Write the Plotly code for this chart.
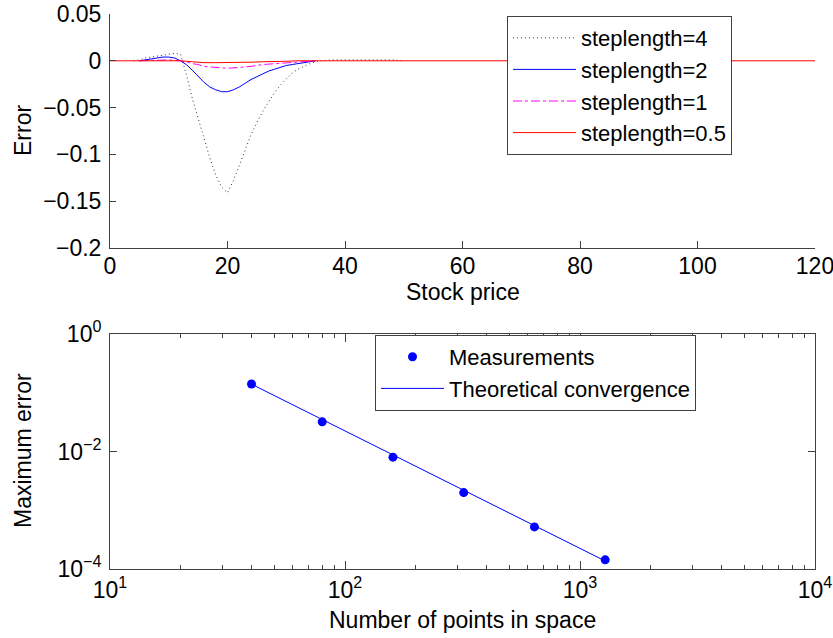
import plotly.graph_objects as go

# ---- top panel data: error vs stock price ----
price_s4 = [4, 5, 6, 7, 8, 9, 10, 11, 12, 13, 14, 15, 16, 17, 18, 19, 20, 21, 22, 23, 24,
            25, 26, 27, 28, 29, 30, 31, 32, 33, 34, 35, 36, 38, 40, 44, 48, 50]
err_s4 = [0.0, 0.001, 0.003, 0.004, 0.005, 0.006, 0.007, 0.008, 0.007, -0.015, -0.040,
          -0.062, -0.083, -0.104, -0.122, -0.135, -0.141, -0.128, -0.112, -0.095, -0.079,
          -0.066, -0.054, -0.044, -0.034, -0.026, -0.019, -0.013, -0.009, -0.006, -0.003,
          -0.001, 0.0, 0.001, 0.001, 0.001, 0.001, 0.0]

price_s2 = [5, 6, 7, 8, 9, 10, 11, 12, 13, 14, 15, 16, 17, 18, 19, 20, 21, 22, 23, 24,
            25, 26, 27, 28, 29, 30, 31, 32, 33, 34, 35]
err_s2 = [0.0, 0.001, 0.002, 0.003, 0.004, 0.004, 0.003, 0.0, -0.004, -0.010, -0.017,
          -0.023, -0.028, -0.031, -0.033, -0.033, -0.031, -0.028, -0.024, -0.020, -0.017,
          -0.014, -0.011, -0.009, -0.007, -0.005, -0.004, -0.003, -0.002, -0.001, 0.0]

price_s1 = [5, 8, 10, 12, 13, 14, 15, 16, 18, 20, 22, 24, 26, 28, 30, 32, 34, 35]
err_s1 = [0.0, 0.001, 0.001, 0.0, -0.001, -0.003, -0.004, -0.006, -0.007, -0.008, -0.007,
          -0.006, -0.004, -0.003, -0.002, -0.001, 0.0, 0.0]

price_s05 = [0, 10, 12, 14, 16, 18, 20, 22, 24, 26, 28, 30, 32, 35, 120]
err_s05 = [0.0, 0.0005, 0.0, -0.001, -0.002, -0.002, -0.002, -0.002, -0.0015, -0.001,
           -0.001, -0.0005, 0.0, 0.0, 0.0]

top_xticks = [0, 20, 40, 60, 80, 100, 120]
top_yticks = [0.05, 0, -0.05, -0.1, -0.15, -0.2]
top_yticktext = ["0.05", "0", "\u22120.05", "\u22120.1", "\u22120.15", "\u22120.2"]

# ---- bottom panel data: convergence ----
n_points = [40, 80, 160, 320, 640, 1280]
max_error = [0.141, 0.032, 0.0080, 0.0020, 0.00052, 0.000143]
theory_error = [0.14, 0.035, 0.00875, 0.00219, 0.000547, 0.000137]

bot_xticks = [10, 100, 1000, 10000]
bot_xticktext = ["10<sup>1</sup>", "10<sup>2</sup>", "10<sup>3</sup>", "10<sup>4</sup>"]
bot_xminor = [m * d for d in (10, 100, 1000) for m in range(2, 10)]
bot_yticks = [1, 0.01, 0.0001]
bot_yticktext = ["10<sup>0</sup>", "10<sup>\u22122</sup>", "10<sup>\u22124</sup>"]

FONT = "Liberation Sans, Arial, sans-serif"
AX = "#404040"
FS = 23
LFS = 22

fig = go.Figure()
fig.add_trace(go.Scatter(x=price_s4, y=err_s4, mode="lines", name="steplength=4",
                         line=dict(color="#333333", width=1, dash="1px,3px"),
                         xaxis="x", yaxis="y", legend="legend"))
fig.add_trace(go.Scatter(x=price_s2, y=err_s2, mode="lines", name="steplength=2",
                         line=dict(color="#0000ff", width=1),
                         xaxis="x", yaxis="y", legend="legend"))
fig.add_trace(go.Scatter(x=price_s1, y=err_s1, mode="lines", name="steplength=1",
                         line=dict(color="#ff00ff", width=1, dash="dashdot"),
                         xaxis="x", yaxis="y", legend="legend"))
fig.add_trace(go.Scatter(x=price_s05, y=err_s05, mode="lines", name="steplength=0.5",
                         line=dict(color="#ff0000", width=1),
                         xaxis="x", yaxis="y", legend="legend"))

fig.add_trace(go.Scatter(x=n_points, y=max_error, mode="markers", name="Measurements",
                         marker=dict(color="#0000ff", size=9),
                         xaxis="x2", yaxis="y2", legend="legend2"))
fig.add_trace(go.Scatter(x=n_points, y=theory_error, mode="lines",
                         name="Theoretical convergence",
                         line=dict(color="#0000ff", width=1),
                         xaxis="x2", yaxis="y2", legend="legend2"))

L, R, T, B = 110, 18, 14, 69
W, H = 833, 638
PW, PH = W - L - R, H - T - B


def px(xp):
    return (xp - L) / PW


def py(yp):
    return (H - B - yp) / PH


top_dom = [py(248), 1.0]
bot_dom = [0.0, py(334)]

tickfont = dict(family=FONT, size=FS, color="black")

fig.update_layout(
    width=W, height=H,
    margin=dict(l=L, r=R, t=T, b=B, autoexpand=False),
    paper_bgcolor="white", plot_bgcolor="white",
    font=dict(family=FONT, size=FS, color="black"),
    xaxis=dict(domain=[0, 1], anchor="y", range=[0, 120], tickmode="array",
               tickvals=top_xticks, ticks="inside", ticklen=7, tickcolor=AX,
               showline=True, linecolor=AX, linewidth=1, mirror=False, automargin=False,
               ticklabeloverflow="allow", ticklabelstandoff=-3,
               showgrid=False, zeroline=False, tickfont=tickfont),
    yaxis=dict(domain=top_dom, anchor="x", range=[-0.2, 0.05], tickmode="array",
               tickvals=top_yticks, ticktext=top_yticktext, ticks="inside", ticklen=6,
               tickcolor=AX, showline=True, linecolor=AX, linewidth=1, mirror=False,
               automargin=False, ticklabelstandoff=3, ticklabeloverflow="allow",
               showgrid=False, zeroline=False, tickfont=tickfont),
    xaxis2=dict(domain=[0, 1], anchor="y2", type="log", range=[1, 4], tickmode="array",
                tickvals=bot_xticks, ticktext=bot_xticktext, ticks="inside", ticklen=8,
                tickcolor=AX, showline=True, linecolor=AX, linewidth=1, mirror="ticks",
                automargin=False, ticklabeloverflow="allow",
                showgrid=False, zeroline=False, tickfont=tickfont,
                minor=dict(tickmode="array", tickvals=bot_xminor, ticks="inside",
                           ticklen=4, tickcolor=AX, showgrid=False)),
    yaxis2=dict(domain=bot_dom, anchor="x2", type="log", range=[-4, 0], tickmode="array",
                tickvals=bot_yticks, ticktext=bot_yticktext, ticks="inside", ticklen=7,
                tickcolor=AX, showline=True, linecolor=AX, linewidth=1, mirror="ticks",
                automargin=False, ticklabelstandoff=3, ticklabeloverflow="allow",
                showgrid=False, zeroline=False, tickfont=tickfont),
    legend=dict(x=px(507), y=py(16), xanchor="left", yanchor="top",
                bgcolor="white", bordercolor=AX, borderwidth=1, itemwidth=63,
                font=dict(family=FONT, size=LFS, color="black"), tracegroupgap=0),
    legend2=dict(x=px(375), y=py(335), xanchor="left", yanchor="top",
                 bgcolor="white", bordercolor=AX, borderwidth=1, itemwidth=63,
                 font=dict(family=FONT, size=LFS, color="black"), tracegroupgap=0),
    showlegend=True,
)

ann_font = dict(family=FONT, size=FS, color="black")
fig.add_annotation(text="Error", x=px(23), y=py(131), xref="paper", yref="paper",
                   textangle=-90, showarrow=False, font=ann_font,
                   xanchor="center", yanchor="middle")
fig.add_annotation(text="Stock price", x=0.5, y=py(292), xref="paper", yref="paper",
                   showarrow=False, font=ann_font, xanchor="center", yanchor="middle")
fig.add_annotation(text="Maximum error", x=px(23), y=py(451), xref="paper", yref="paper",
                   textangle=-90, showarrow=False, font=ann_font,
                   xanchor="center", yanchor="middle")
fig.add_annotation(text="Number of points in space", x=0.5, y=py(620), xref="paper",
                   yref="paper", showarrow=False, font=ann_font,
                   xanchor="center", yanchor="middle")

fig.write_html("out.html")
